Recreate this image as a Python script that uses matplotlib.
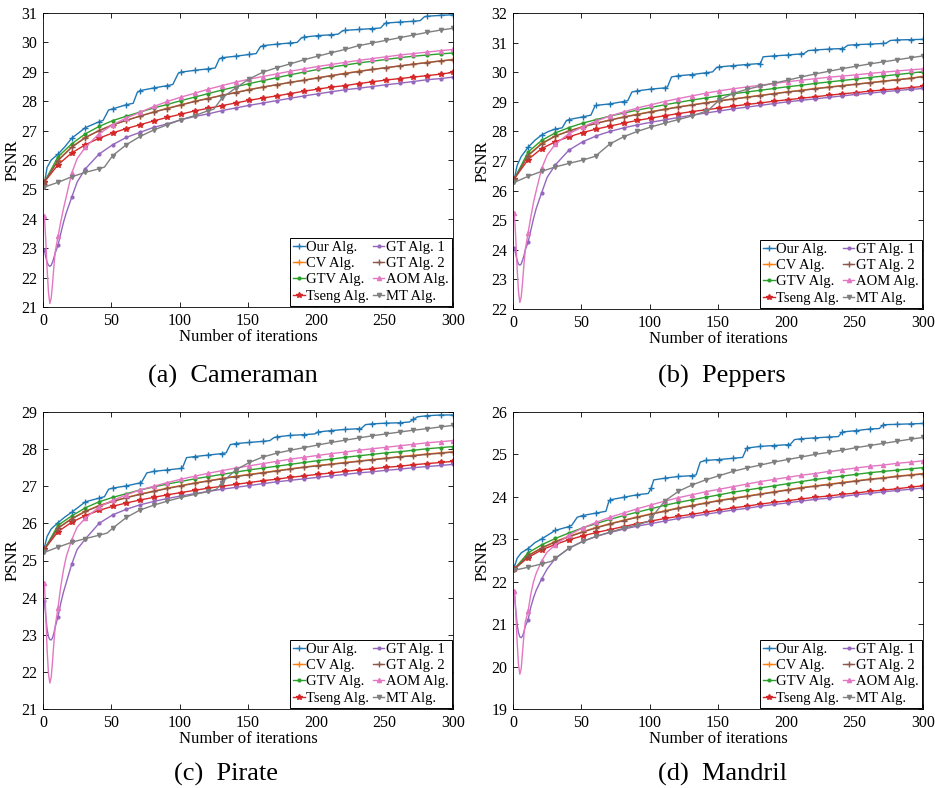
import numpy as np
import matplotlib.pyplot as plt

plt.rcParams['font.family'] = ['Liberation Serif', 'DejaVu Serif']
plt.rcParams['font.size'] = 11

# marker iterations (every 10th iteration + last one)
ITERS = list(range(1, 292, 10)) + [300]

NAMES = ['Our Alg.', 'CV Alg.', 'GTV Alg.', 'Tseng Alg.',
         'GT Alg. 1', 'GT Alg. 2', 'AOM Alg.', 'MT Alg.']
COLORS = ['#1f77b4', '#ff7f0e', '#2ca02c', '#d62728',
          '#9467bd', '#8c564b', '#e377c2', '#7f7f7f']
MARKERS = ['+', '+', '.', '*', '.', '+', '^', 'v']

# extra x positions for the first-iteration dip (GT 1 / AOM)
DIP_X = [2, 3, 4, 5, 6, 7, 8, 9, 13, 15, 17, 25]

# ---------------- (a) Cameraman ----------------
CAM_OUR = [25.2, 26.2, 26.74, 27.1, 27.3, 27.74, 27.88, 28.36, 28.45, 28.53, 28.99,
           29.05, 29.1, 29.48, 29.53, 29.59, 29.89, 29.94, 29.98, 30.18, 30.23,
           30.26, 30.41, 30.44, 30.47, 30.66, 30.69, 30.72, 30.89, 30.92, 30.94]
CAM_OUR_EX_X = [3, 6, 16, 44, 48, 66, 69, 95, 99, 126, 129, 156, 159, 186, 189, 216, 219, 247, 250, 276, 279]
CAM_OUR_EX_Y = [25.75, 26.0, 26.45, 27.35, 27.7, 27.93, 28.3, 28.57, 28.95, 29.13, 29.44,
                29.62, 29.85, 30.0, 30.15, 30.28, 30.39, 30.49, 30.64, 30.74, 30.87]
CAM_CV = [25.25, 26.0, 26.45, 26.77, 27.0, 27.2, 27.35, 27.5, 27.63, 27.76, 27.88, 28.0,
          28.1, 28.2, 28.3, 28.4, 28.48, 28.56, 28.64, 28.72, 28.8, 28.87, 28.95, 29.02,
          29.08, 29.14, 29.2, 29.26, 29.32, 29.37, 29.42]
CAM_GTV = [25.25, 26.11, 26.55, 26.89, 27.14, 27.34, 27.49, 27.63, 27.77, 27.89, 28.02,
           28.14, 28.26, 28.38, 28.49, 28.6, 28.7, 28.8, 28.9, 28.99, 29.08, 29.16, 29.23,
           29.3, 29.36, 29.42, 29.48, 29.53, 29.57, 29.61, 29.64]
CAM_TSENG = [25.25, 25.84, 26.24, 26.52, 26.74, 26.92, 27.07, 27.2, 27.33, 27.45, 27.56,
             27.67, 27.76, 27.85, 27.94, 28.03, 28.11, 28.18, 28.26, 28.34, 28.41, 28.48,
             28.53, 28.6, 28.66, 28.72, 28.77, 28.82, 28.87, 28.92, 28.98]
CAM_GT1 = [22.95, 23.1, 24.73, 25.7, 26.2, 26.52, 26.77, 26.94, 27.11, 27.23, 27.37,
           27.48, 27.57, 27.68, 27.77, 27.86, 27.94, 28.02, 28.1, 28.18, 28.25, 28.32,
           28.39, 28.44, 28.5, 28.56, 28.61, 28.67, 28.73, 28.77, 28.82]
CAM_GT1_EX = [22.7, 22.52, 22.42, 22.38, 22.42, 22.53, 22.68, 22.85, 23.5, 23.88, 24.2, 25.25]
CAM_GT2 = [25.25, 25.98, 26.43, 26.76, 27.0, 27.19, 27.35, 27.49, 27.63, 27.75, 27.87,
           27.99, 28.09, 28.2, 28.29, 28.39, 28.48, 28.56, 28.64, 28.71, 28.79, 28.87,
           28.94, 29.01, 29.08, 29.14, 29.2, 29.26, 29.31, 29.37, 29.41]
CAM_AOM = [24.1, 23.4, 25.55, 26.43, 26.89, 27.2, 27.43, 27.62, 27.82, 27.99, 28.14,
           28.27, 28.41, 28.53, 28.65, 28.75, 28.84, 28.93, 29.02, 29.1, 29.18, 29.25,
           29.32, 29.39, 29.45, 29.51, 29.57, 29.62, 29.67, 29.72, 29.76]
CAM_AOM_EX = [23.3, 22.3, 21.5, 21.12, 21.3, 21.8, 22.4, 22.9, 23.9, 24.35, 24.75, 26.05]
CAM_MT = [25.08, 25.24, 25.43, 25.58, 25.7, 26.15, 26.52, 26.8, 27.02, 27.2, 27.37,
          27.51, 27.68, 28.11, 28.45, 28.76, 28.99, 29.14, 29.27, 29.41, 29.53, 29.65,
          29.76, 29.89, 29.98, 30.07, 30.16, 30.25, 30.34, 30.42, 30.48]
CAM_MT_EX_X = [45, 125]
CAM_MT_EX_Y = [25.76, 27.73]

# ---------------- (b) Peppers ----------------
PEP_OUR = [26.4, 27.46, 27.88, 28.08, 28.4, 28.49, 28.88, 28.93, 29.01, 29.37, 29.43,
           29.47, 29.88, 29.92, 29.98, 30.18, 30.22, 30.26, 30.28, 30.55, 30.58, 30.62,
           30.75, 30.78, 30.8, 30.93, 30.95, 30.97, 31.09, 31.1, 31.11]
PEP_OUR_EX_X = [3, 6, 16, 26, 36, 39, 57, 60, 84, 87, 113, 116, 146, 149, 180, 183,
                213, 216, 242, 245, 273, 276]
PEP_OUR_EX_Y = [26.85, 27.15, 27.7, 28.0, 28.12, 28.36, 28.55, 28.86, 29.04, 29.33, 29.5,
                29.84, 30.01, 30.16, 30.29, 30.52, 30.63, 30.73, 30.81, 30.91, 30.98, 31.07]
PEP_CV = [26.4, 27.2, 27.6, 27.85, 28.02, 28.16, 28.28, 28.39, 28.49, 28.58, 28.67,
          28.75, 28.83, 28.9, 28.97, 29.04, 29.1, 29.16, 29.22, 29.28, 29.34, 29.39,
          29.45, 29.5, 29.55, 29.6, 29.65, 29.7, 29.75, 29.8, 29.86]
PEP_GTV = [26.4, 27.3, 27.7, 27.95, 28.13, 28.28, 28.4, 28.52, 28.62, 28.72, 28.81,
           28.9, 28.98, 29.06, 29.13, 29.2, 29.27, 29.33, 29.39, 29.45, 29.51, 29.56,
           29.62, 29.67, 29.72, 29.77, 29.82, 29.87, 29.92, 29.97, 30.02]
PEP_TSENG = [26.4, 27.05, 27.42, 27.65, 27.82, 27.96, 28.08, 28.18, 28.28, 28.37, 28.45,
             28.53, 28.6, 28.67, 28.73, 28.79, 28.85, 28.91, 28.96, 29.02, 29.07, 29.12,
             29.17, 29.22, 29.27, 29.31, 29.36, 29.4, 29.44, 29.48, 29.52]
PEP_GT1 = [24.05, 24.25, 25.93, 26.87, 27.37, 27.65, 27.85, 28.0, 28.12, 28.22, 28.31,
           28.39, 28.47, 28.55, 28.62, 28.69, 28.76, 28.82, 28.88, 28.94, 29.0, 29.05,
           29.1, 29.15, 29.2, 29.25, 29.29, 29.34, 29.38, 29.42, 29.45]
PEP_GT1_EX = [23.85, 23.65, 23.52, 23.48, 23.52, 23.65, 23.8, 24.0, 24.65, 25.05, 25.4, 26.45]
PEP_GT2 = [26.4, 27.18, 27.58, 27.84, 28.01, 28.15, 28.27, 28.38, 28.48, 28.57, 28.66,
           28.74, 28.82, 28.89, 28.96, 29.03, 29.09, 29.15, 29.21, 29.27, 29.33, 29.38,
           29.44, 29.49, 29.54, 29.59, 29.64, 29.69, 29.74, 29.79, 29.85]
PEP_AOM = [25.25, 24.56, 26.75, 27.57, 27.93, 28.15, 28.35, 28.52, 28.66, 28.79, 28.9,
           29.01, 29.11, 29.2, 29.29, 29.37, 29.44, 29.5, 29.56, 29.62, 29.68, 29.73,
           29.78, 29.83, 29.87, 29.91, 29.96, 30.0, 30.04, 30.08, 30.11]
PEP_AOM_EX = [24.4, 23.4, 22.6, 22.22, 22.4, 22.9, 23.5, 24.0, 25.1, 25.6, 26.0, 27.2]
PEP_MT = [26.28, 26.48, 26.65, 26.8, 26.92, 27.03, 27.17, 27.58, 27.82, 28.0, 28.15,
          28.28, 28.4, 28.52, 28.68, 29.06, 29.28, 29.42, 29.53, 29.63, 29.73, 29.84,
          29.94, 30.03, 30.12, 30.2, 30.28, 30.35, 30.42, 30.49, 30.55]
PEP_MT_EX_X = [63, 143]
PEP_MT_EX_Y = [27.27, 28.72]

# ---------------- (c) Pirate ----------------
PIR_OUR = [25.35, 26.02, 26.3, 26.58, 26.68, 26.95, 27.01, 27.09, 27.4, 27.44, 27.48,
           27.8, 27.84, 27.88, 28.15, 28.18, 28.21, 28.33, 28.37, 28.39, 28.46, 28.5,
           28.53, 28.55, 28.68, 28.7, 28.71, 28.8, 28.9, 28.92, 28.92]
PIR_OUR_EX_X = [3, 6, 16, 45, 48, 72, 76, 102, 105, 134, 137, 166, 169, 199, 233, 236, 268, 274]
PIR_OUR_EX_Y = [25.65, 25.85, 26.17, 26.72, 26.92, 27.1, 27.36, 27.49, 27.77, 27.9, 28.12,
                28.23, 28.31, 28.41, 28.56, 28.66, 28.73, 28.87]
PIR_CV = [25.3, 25.88, 26.13, 26.33, 26.48, 26.6, 26.7, 26.79, 26.87, 26.95, 27.02,
          27.09, 27.15, 27.21, 27.27, 27.32, 27.37, 27.42, 27.47, 27.52, 27.56, 27.6,
          27.64, 27.68, 27.72, 27.76, 27.8, 27.83, 27.87, 27.9, 27.93]
PIR_GTV = [25.3, 25.95, 26.2, 26.42, 26.58, 26.7, 26.8, 26.9, 26.98, 27.06, 27.13, 27.2,
           27.26, 27.32, 27.38, 27.44, 27.49, 27.54, 27.59, 27.64, 27.69, 27.73, 27.78,
           27.82, 27.86, 27.9, 27.93, 27.97, 28.01, 28.04, 28.07]
PIR_TSENG = [25.3, 25.78, 26.03, 26.21, 26.35, 26.46, 26.55, 26.63, 26.7, 26.77, 26.83,
             26.89, 26.95, 27.0, 27.05, 27.1, 27.15, 27.19, 27.24, 27.28, 27.32, 27.36,
             27.4, 27.44, 27.47, 27.51, 27.54, 27.58, 27.61, 27.64, 27.67]
PIR_GT1 = [23.9, 23.49, 24.9, 25.58, 26.0, 26.23, 26.38, 26.5, 26.59, 26.67, 26.74,
           26.8, 26.86, 26.92, 26.97, 27.02, 27.07, 27.12, 27.16, 27.2, 27.24, 27.28,
           27.32, 27.36, 27.39, 27.43, 27.46, 27.5, 27.53, 27.56, 27.59]
PIR_GT1_EX = [23.5, 23.15, 22.95, 22.87, 22.86, 22.92, 23.05, 23.22, 23.85, 24.15, 24.4, 25.3]
PIR_GT2 = [25.3, 25.87, 26.12, 26.32, 26.47, 26.59, 26.69, 26.78, 26.86, 26.94, 27.01,
           27.08, 27.14, 27.2, 27.26, 27.31, 27.36, 27.41, 27.46, 27.51, 27.55, 27.59,
           27.63, 27.67, 27.71, 27.75, 27.79, 27.82, 27.86, 27.89, 27.92]
PIR_AOM = [24.4, 23.73, 25.56, 26.14, 26.44, 26.62, 26.77, 26.9, 27.0, 27.1, 27.19,
           27.27, 27.35, 27.42, 27.49, 27.55, 27.61, 27.67, 27.73, 27.78, 27.83, 27.88,
           27.92, 27.97, 28.01, 28.05, 28.09, 28.13, 28.17, 28.2, 28.23]
PIR_AOM_EX = [23.6, 22.6, 21.95, 21.7, 21.85, 22.3, 22.8, 23.25, 24.3, 24.75, 25.1, 25.9]
PIR_MT = [25.22, 25.36, 25.49, 25.59, 25.68, 25.87, 26.16, 26.36, 26.49, 26.6, 26.7,
          26.78, 26.86, 27.1, 27.44, 27.64, 27.79, 27.89, 27.97, 28.04, 28.11, 28.18,
          28.24, 28.3, 28.36, 28.41, 28.46, 28.51, 28.55, 28.6, 28.64]
PIR_MT_EX_X = [47, 127]
PIR_MT_EX_Y = [25.74, 26.92]

# ---------------- (d) Mandril ----------------
MAN_OUR = [22.35, 22.78, 23.01, 23.21, 23.3, 23.56, 23.62, 23.93, 23.99, 24.05, 24.2,
           24.44, 24.48, 24.5, 24.86, 24.88, 24.91, 25.15, 25.19, 25.21, 25.23, 25.37,
           25.39, 25.41, 25.53, 25.56, 25.6, 25.7, 25.71, 25.72, 25.73]
MAN_OUR_EX_X = [3, 6, 16, 43, 47, 68, 70, 99, 103, 134, 137, 168, 203, 206, 238, 268]
MAN_OUR_EX_Y = [22.55, 22.68, 22.92, 23.33, 23.52, 23.66, 23.88, 24.08, 24.4, 24.52,
                24.82, 24.93, 25.24, 25.35, 25.42, 25.61]
MAN_CV = [22.3, 22.62, 22.8, 22.95, 23.07, 23.18, 23.28, 23.37, 23.45, 23.53, 23.6,
          23.67, 23.74, 23.8, 23.86, 23.92, 23.97, 24.02, 24.07, 24.12, 24.17, 24.22,
          24.26, 24.3, 24.34, 24.38, 24.42, 24.45, 24.49, 24.52, 24.55]
MAN_GTV = [22.3, 22.68, 22.87, 23.02, 23.15, 23.27, 23.37, 23.47, 23.56, 23.64, 23.72,
           23.8, 23.87, 23.93, 23.99, 24.05, 24.11, 24.16, 24.21, 24.26, 24.31, 24.36,
           24.41, 24.45, 24.49, 24.53, 24.57, 24.6, 24.63, 24.66, 24.69]
MAN_TSENG = [22.3, 22.57, 22.75, 22.88, 22.99, 23.08, 23.16, 23.23, 23.3, 23.37, 23.43,
             23.49, 23.54, 23.59, 23.64, 23.69, 23.74, 23.78, 23.83, 23.87, 23.91, 23.95,
             23.99, 24.02, 24.06, 24.09, 24.13, 24.16, 24.19, 24.23, 24.26]
MAN_GT1 = [21.75, 21.1, 22.07, 22.55, 22.79, 22.95, 23.07, 23.16, 23.24, 23.31, 23.37,
           23.43, 23.49, 23.54, 23.59, 23.64, 23.69, 23.73, 23.78, 23.82, 23.86, 23.9,
           23.94, 23.97, 24.01, 24.05, 24.08, 24.12, 24.15, 24.18, 24.21]
MAN_GT1_EX = [21.35, 21.0, 20.8, 20.7, 20.68, 20.72, 20.82, 20.95, 21.4, 21.62, 21.8, 22.3]
MAN_GT2 = [22.3, 22.61, 22.79, 22.94, 23.06, 23.17, 23.27, 23.36, 23.44, 23.52, 23.59,
           23.66, 23.73, 23.79, 23.85, 23.91, 23.96, 24.01, 24.06, 24.11, 24.16, 24.21,
           24.25, 24.29, 24.33, 24.37, 24.41, 24.44, 24.48, 24.51, 24.54]
MAN_AOM = [21.78, 21.3, 22.49, 22.87, 23.1, 23.27, 23.4, 23.52, 23.62, 23.72, 23.81,
           23.9, 23.98, 24.05, 24.12, 24.18, 24.24, 24.3, 24.36, 24.41, 24.46, 24.51,
           24.55, 24.6, 24.64, 24.68, 24.72, 24.75, 24.79, 24.82, 24.85]
MAN_AOM_EX = [21.3, 20.6, 20.05, 19.82, 19.95, 20.35, 20.75, 21.05, 21.7, 22.0, 22.2, 22.7]
MAN_MT = [22.27, 22.34, 22.42, 22.55, 22.79, 22.95, 23.07, 23.17, 23.26, 23.34, 23.5,
          23.9, 24.13, 24.28, 24.4, 24.5, 24.6, 24.68, 24.75, 24.82, 24.88, 24.94, 25.0,
          25.05, 25.1, 25.16, 25.21, 25.26, 25.31, 25.36, 25.4]
MAN_MT_EX_X = [28, 99]
MAN_MT_EX_Y = [22.48, 23.42]


def merge(ys, ex_x=(), ex_y=()):
    x = np.array(list(ITERS) + list(ex_x), dtype=float)
    y = np.array(list(ys) + list(ex_y), dtype=float)
    order = np.argsort(x, kind='stable')
    x, y = x[order], y[order]
    marks = [i for i, v in enumerate(x) if v in ITERS]
    return x, y, marks


panels = [
    ('(a)  Cameraman', (21, 31), [
        merge(CAM_OUR, CAM_OUR_EX_X, CAM_OUR_EX_Y), merge(CAM_CV), merge(CAM_GTV),
        merge(CAM_TSENG), merge(CAM_GT1, DIP_X, CAM_GT1_EX), merge(CAM_GT2),
        merge(CAM_AOM, DIP_X, CAM_AOM_EX), merge(CAM_MT, CAM_MT_EX_X, CAM_MT_EX_Y)]),
    ('(b)  Peppers', (22, 32), [
        merge(PEP_OUR, PEP_OUR_EX_X, PEP_OUR_EX_Y), merge(PEP_CV), merge(PEP_GTV),
        merge(PEP_TSENG), merge(PEP_GT1, DIP_X, PEP_GT1_EX), merge(PEP_GT2),
        merge(PEP_AOM, DIP_X, PEP_AOM_EX), merge(PEP_MT, PEP_MT_EX_X, PEP_MT_EX_Y)]),
    ('(c)  Pirate', (21, 29), [
        merge(PIR_OUR, PIR_OUR_EX_X, PIR_OUR_EX_Y), merge(PIR_CV), merge(PIR_GTV),
        merge(PIR_TSENG), merge(PIR_GT1, DIP_X, PIR_GT1_EX), merge(PIR_GT2),
        merge(PIR_AOM, DIP_X, PIR_AOM_EX), merge(PIR_MT, PIR_MT_EX_X, PIR_MT_EX_Y)]),
    ('(d)  Mandril', (19, 26), [
        merge(MAN_OUR, MAN_OUR_EX_X, MAN_OUR_EX_Y), merge(MAN_CV), merge(MAN_GTV),
        merge(MAN_TSENG), merge(MAN_GT1, DIP_X, MAN_GT1_EX), merge(MAN_GT2),
        merge(MAN_AOM, DIP_X, MAN_AOM_EX), merge(MAN_MT, MAN_MT_EX_X, MAN_MT_EX_Y)]),
]

fig = plt.figure(figsize=(9.35, 7.88), dpi=100)
W, H = 935, 788
boxes = [(43, 13, 453, 307), (513, 13, 923, 309), (43, 412, 453, 709), (513, 412, 923, 709)]
cap_pos = [(233, 376), (722, 376), (226, 774), (722, 774)]

for (title, ylim, series), (l, t, r, b), (cx, cy) in zip(panels, boxes, cap_pos):
    ax = fig.add_axes([l / W, 1 - b / H, (r - l) / W, (b - t) / H])
    for (x, y, mk), name, c, m in zip(series, NAMES, COLORS, MARKERS):
        ms = 5 if m == '+' else (4 if m in ('.', '*') else 3)
        ax.plot(x, y, color=c, lw=1.0, marker=m, markevery=mk, ms=ms, mew=1.0, label=name)
    ax.set_xlim(0, 300)
    ax.set_ylim(*ylim)
    ax.set_xticks(range(0, 301, 50))
    ax.set_yticks(range(ylim[0], ylim[1] + 1))
    ax.tick_params(direction='in', top=True, right=True, length=3.5, width=0.6,
                   labelsize=11.5, pad=4)
    for s in ax.spines.values():
        s.set_linewidth(0.6)
    ax.set_xlabel('Number of iterations', fontsize=12, labelpad=0)
    ax.set_ylabel('PSNR', fontsize=12, labelpad=1)
    leg = ax.legend(loc='lower right', ncol=2, borderaxespad=0.1, fancybox=False,
                    edgecolor='k', framealpha=1, handlelength=0.8, handletextpad=0.1,
                    columnspacing=0.25, labelspacing=0.2, borderpad=0.2, fontsize=10.5)
    leg.get_frame().set_linewidth(0.7)
    fig.text(cx / W, 1 - cy / H, title, ha='center', va='center', fontsize=19)

fig.savefig('out.png', dpi=100)
